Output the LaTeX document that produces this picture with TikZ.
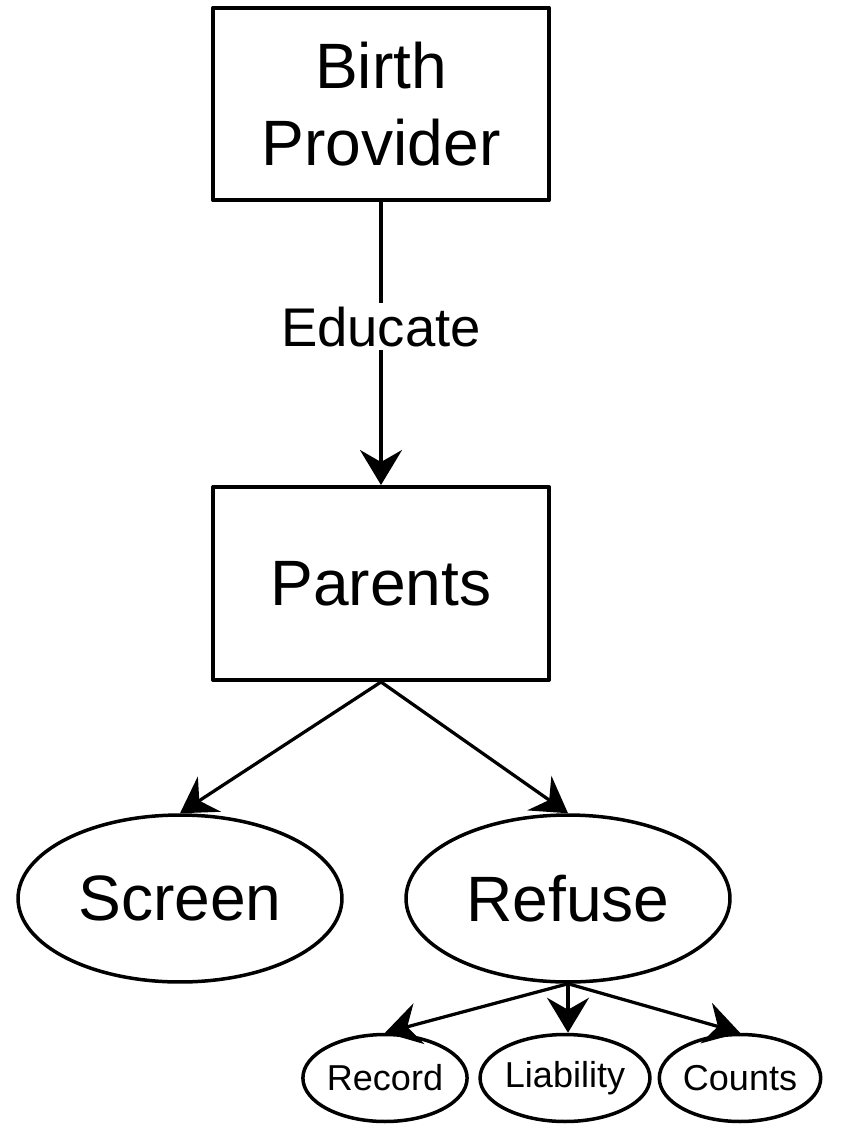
\documentclass[tikz,border=0pt]{standalone}
\usepackage{fontspec}
\setmainfont{Liberation Sans}
\usetikzlibrary{shapes.geometric,arrows.meta}

\begin{document}
\begin{tikzpicture}[
    x = 0.02cm, y = -0.02cm,
    line join=round,
    boxstyle/.style = {draw, line width=0.08cm, minimum width=6.72cm, minimum height=3.86cm, align=center, font=\fontsize{36.5}{44}\selectfont},
    bigoval/.style = {draw, ellipse, line width=0.07cm, minimum width=6.48cm, minimum height=3.34cm, font=\fontsize{36.5}{44}\selectfont},
    smalloval/.style = {draw, ellipse, line width=0.07cm, minimum width=3.2cm, minimum height=1.74cm, inner sep=0pt, font=\fontsize{20.5}{24}\selectfont},
    link/.style = {line width=0.065cm, -{Stealth[length=0.7cm, width=0.84cm, inset=0.24cm]}}
]

    \useasboundingbox (0,0) rectangle (846,1124);

    % boxes
    \node[boxstyle] (birth) at (381,104) {Birth\\Provider};
    \node[boxstyle] (parents) at (381,583.5) {Parents};

    % choices
    \node[bigoval] (screen) at (180,898.5) {Screen};
    \node[bigoval] (refuse) at (568,898.5) {Refuse};

    % consequences of refusing
    \node[smalloval] (record) at (385,1078) {Record};
    \node[smalloval] (liability) at (565,1078) {Liability};
    \node[smalloval] (counts) at (740,1078) {Counts};

    \draw[link] (birth) -- (parents)
        node[pos=0.44, fill=white, inner sep=2pt, font=\fontsize{31}{36}\selectfont] (educate) {Educate};

    \draw[link] (parents.south) -- (screen.north);
    \draw[link] (parents.south) -- (refuse.north);

    \draw[link] (refuse.south) -- (record.north);
    \draw[link] (refuse.south) -- (refuse.south |- liability.north);
    \draw[link] (refuse.south) -- (counts.north);

\end{tikzpicture}
\end{document}
